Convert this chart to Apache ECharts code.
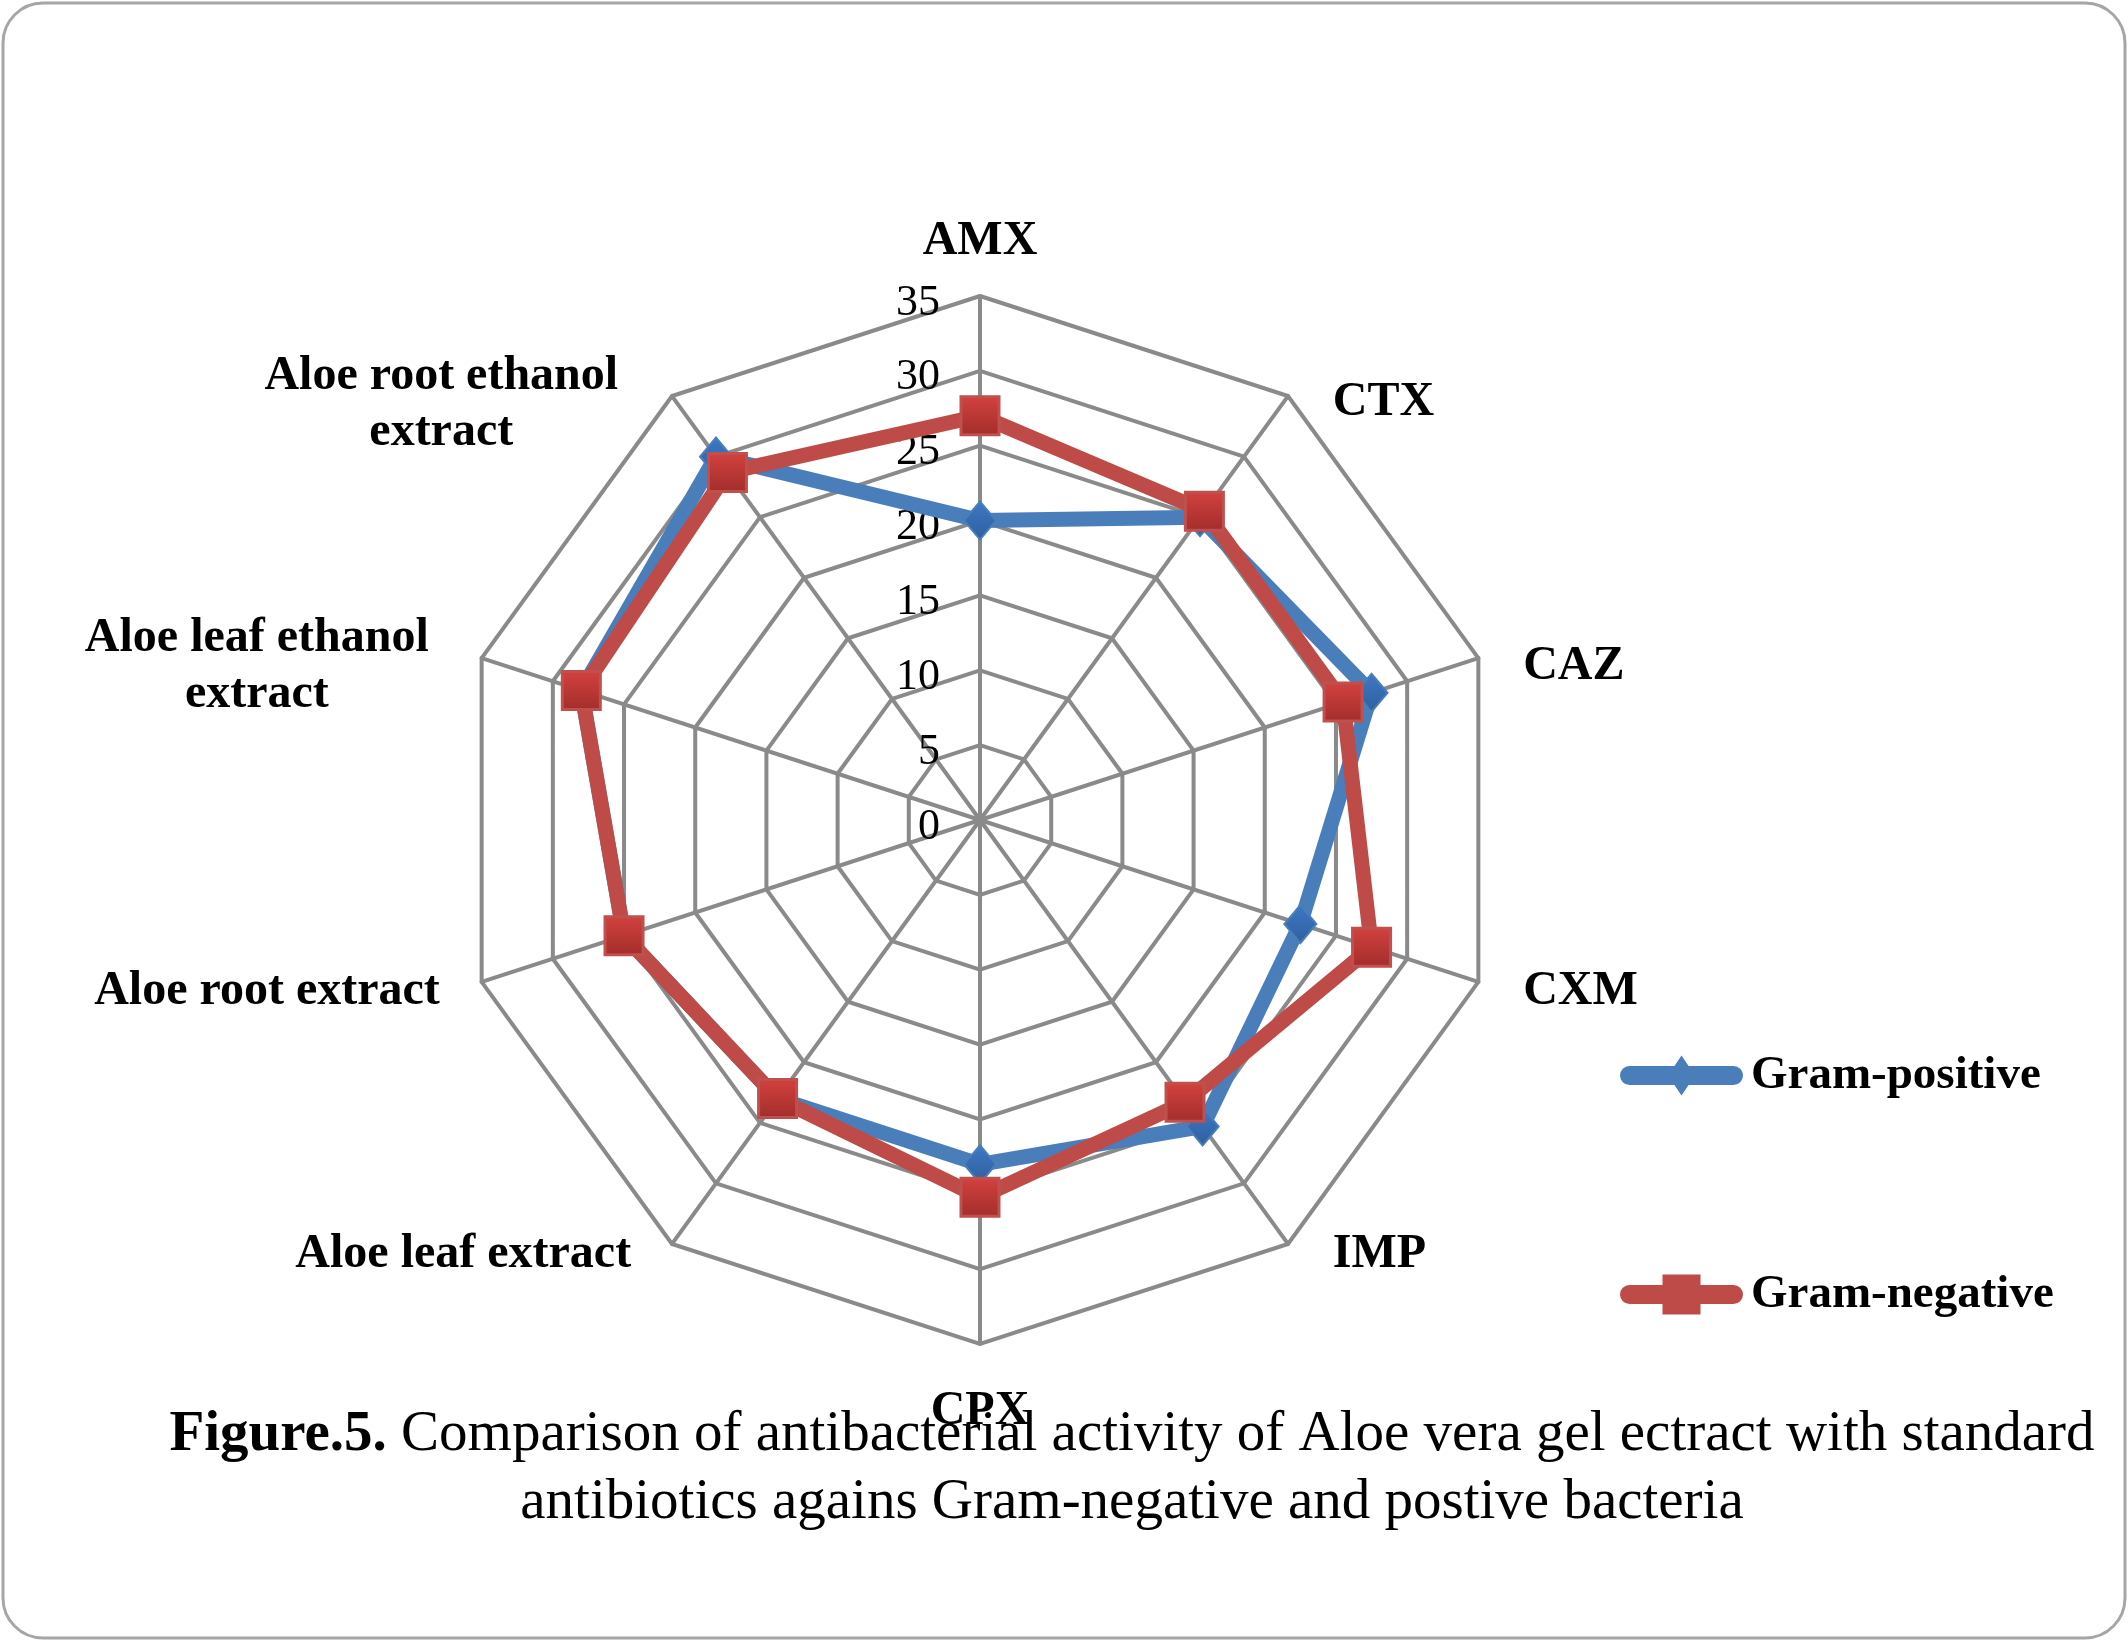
<!DOCTYPE html>
<html>
<head>
<meta charset="utf-8">
<script src="https://cdn.jsdelivr.net/npm/echarts@6/dist/echarts.min.js"></script>
<style>
  html, body { margin: 0; padding: 0; background: #ffffff; }
  #chart { width: 2128px; height: 1641px; }
</style>
</head>
<body>
<div id="chart"></div>
<script>
// ---- data (clockwise from top, as in the figure) ----
const categories = ['AMX', 'CTX', 'CAZ', 'CXM', 'IMP', 'CPX',
  'Aloe leaf extract', 'Aloe root extract', 'Aloe leaf ethanol extract', 'Aloe root ethanol extract'];
const gramPositive = [20, 25, 27.5, 22.5, 25.3, 23, 23, 25, 28, 30];
const gramNegative = [27, 25.5, 25.5, 27.5, 23.3, 25.2, 23, 25, 28, 28.7];
const seriesNames = ['Gram-positive', 'Gram-negative'];
const axisMin = 0;
const axisMax = 35;
const axisStep = 5;
const captionBold = 'Figure.5.';
const captionLine1 = ' Comparison of antibacterial activity of Aloe vera gel ectract with standard';
const captionLine2 = 'antibiotics agains Gram-negative and postive bacteria';

// ECharts lays radar indicators out counter-clockwise; the figure runs clockwise.
function ccw(arr) { return [arr[0]].concat(arr.slice(1).reverse()); }

const SERIF = "'Liberation Serif', 'Times New Roman', serif";

// label fine-tuning (padding: [top, right, bottom, left]) per category index
const labelPad = {
  0: [[0, 0, 0, 0]],
  1: [[84, 0, 0, 19]],
  2: [[44, 0, 0, 3]],
  3: [[0, 0, 8, 3]],
  4: [[0, 0, 50, 19]],
  5: [[0, 0, 0, 0]],
  6: [[0, 15, 50, 0]],
  7: [[0, 0, 8, 0]],
  8: [[44, 11, 0, 0], [0, 11, 0, 0]],
  9: [[88, 28, 0, 0], [0, 28, 0, 0]]
};

const rich = {};
categories.forEach(function (c, k) {
  const pads = labelPad[k];
  const twoLine = pads.length > 1;
  rich['l' + k + 'a'] = {
    fontFamily: SERIF, fontWeight: 'bold', fontSize: 48, color: '#000',
    padding: pads[0], align: twoLine ? 'center' : undefined, height: twoLine ? 56 : undefined
  };
  if (twoLine) {
    rich['l' + k + 'b'] = {
      fontFamily: SERIF, fontWeight: 'bold', fontSize: 48, color: '#000',
      padding: pads[1], align: 'center', height: 56
    };
  }
});

const indicators = ccw(categories).map(function (name, i) {
  const ind = { name: name, min: axisMin, max: axisMax };
  if (i === 0) {
    ind.nameGap = 30;
    ind.axisLabel = {
      show: true,
      margin: 40,
      formatter: '{t|{value}}',
      rich: { t: { color: '#000', fontFamily: SERIF, fontSize: 44, padding: [14, 0, 0, 0] } }
    };
  }
  return ind;
});

const chart = echarts.init(document.getElementById('chart'), null, { renderer: 'canvas' });

const diamondPath = 'path://M9.5,10.5 H113.5 A9.5,9.5 0 0 1 113.5,29.5 H9.5 A9.5,9.5 0 0 1 9.5,10.5 Z M61.5,0 L75,20 L61.5,40 L48,20 Z';
const squarePath = 'path://M9.5,10.5 H113.5 A9.5,9.5 0 0 1 113.5,29.5 H9.5 A9.5,9.5 0 0 1 9.5,10.5 Z M42.5,0 H80.5 V40 H42.5 Z';

const option = {
  animation: false,
  backgroundColor: '#ffffff',
  legend: {
    orient: 'vertical',
    left: 1615,
    top: 1047,
    itemWidth: 123,
    itemHeight: 40,
    itemGap: 172,
    selectedMode: false,
    textStyle: { fontFamily: SERIF, fontWeight: 'bold', fontSize: 47, color: '#000', padding: [0, 0, 0, 3] },
    data: [
      { name: seriesNames[0], icon: diamondPath, itemStyle: { color: '#4a7ebb', borderWidth: 0 } },
      { name: seriesNames[1], icon: squarePath, itemStyle: { color: '#be4b48', borderWidth: 0 } }
    ]
  },
  radar: {
    center: [980, 820],
    radius: 524,
    startAngle: 90,
    shape: 'polygon',
    splitNumber: (axisMax - axisMin) / axisStep,
    nameGap: 44,
    axisName: {
      formatter: function (name) {
        const k = categories.indexOf(name);
        if (labelPad[k].length > 1) {
          const cut = name.lastIndexOf(' ');
          return '{l' + k + 'a|' + name.slice(0, cut) + '}\n{l' + k + 'b|' + name.slice(cut + 1) + '}';
        }
        return '{l' + k + 'a|' + name + '}';
      },
      rich: rich
    },
    axisLabel: { show: false },
    axisTick: { show: false },
    axisLine: { show: true, lineStyle: { color: '#8a8a8a', width: 4 } },
    splitLine: { show: true, lineStyle: { color: '#8a8a8a', width: 4 } },
    splitArea: { show: false },
    indicator: indicators
  },
  series: [{
    type: 'radar',
    emphasis: { disabled: true },
    data: [
      {
        name: seriesNames[0],
        value: ccw(gramPositive),
        symbol: 'diamond',
        symbolSize: [32, 38],
        lineStyle: { color: '#4a7ebb', width: 15, join: 'miter' },
        itemStyle: {
          color: new echarts.graphic.LinearGradient(0, 0, 0, 1, [
            { offset: 0, color: '#3f78c4' }, { offset: 1, color: '#2f5f9f' }
          ]),
          borderColor: '#4a7ebb', borderWidth: 2
        }
      },
      {
        name: seriesNames[1],
        value: ccw(gramNegative),
        symbol: 'rect',
        symbolSize: 38,
        lineStyle: { color: '#be4b48', width: 15, join: 'miter' },
        itemStyle: {
          color: new echarts.graphic.LinearGradient(0, 0, 0, 1, [
            { offset: 0, color: '#d3423f' }, { offset: 1, color: '#a22d2b' }
          ]),
          borderColor: '#c0504d', borderWidth: 3
        }
      }
    ]
  }],
  graphic: [
    {
      type: 'rect',
      z: -10,
      shape: { x: 3, y: 3, width: 2122, height: 1635, r: 40 },
      style: { fill: null, stroke: '#a6a6a6', lineWidth: 3 }
    },
    {
      type: 'text',
      z: 10,
      style: {
        x: 1132, y: 1469,
        align: 'center', verticalAlign: 'middle',
        text: '{b|' + captionBold + '}{r|' + captionLine1 + '}\n{r|' + captionLine2 + '}',
        fill: '#000',
        rich: {
          b: { fontFamily: SERIF, fontWeight: 'bold', fontSize: 57, lineHeight: 68, fill: '#000' },
          r: { fontFamily: SERIF, fontWeight: 'normal', fontSize: 57, lineHeight: 68, fill: '#000' }
        }
      }
    }
  ]
};

chart.setOption(option);
</script>
</body>
</html>
